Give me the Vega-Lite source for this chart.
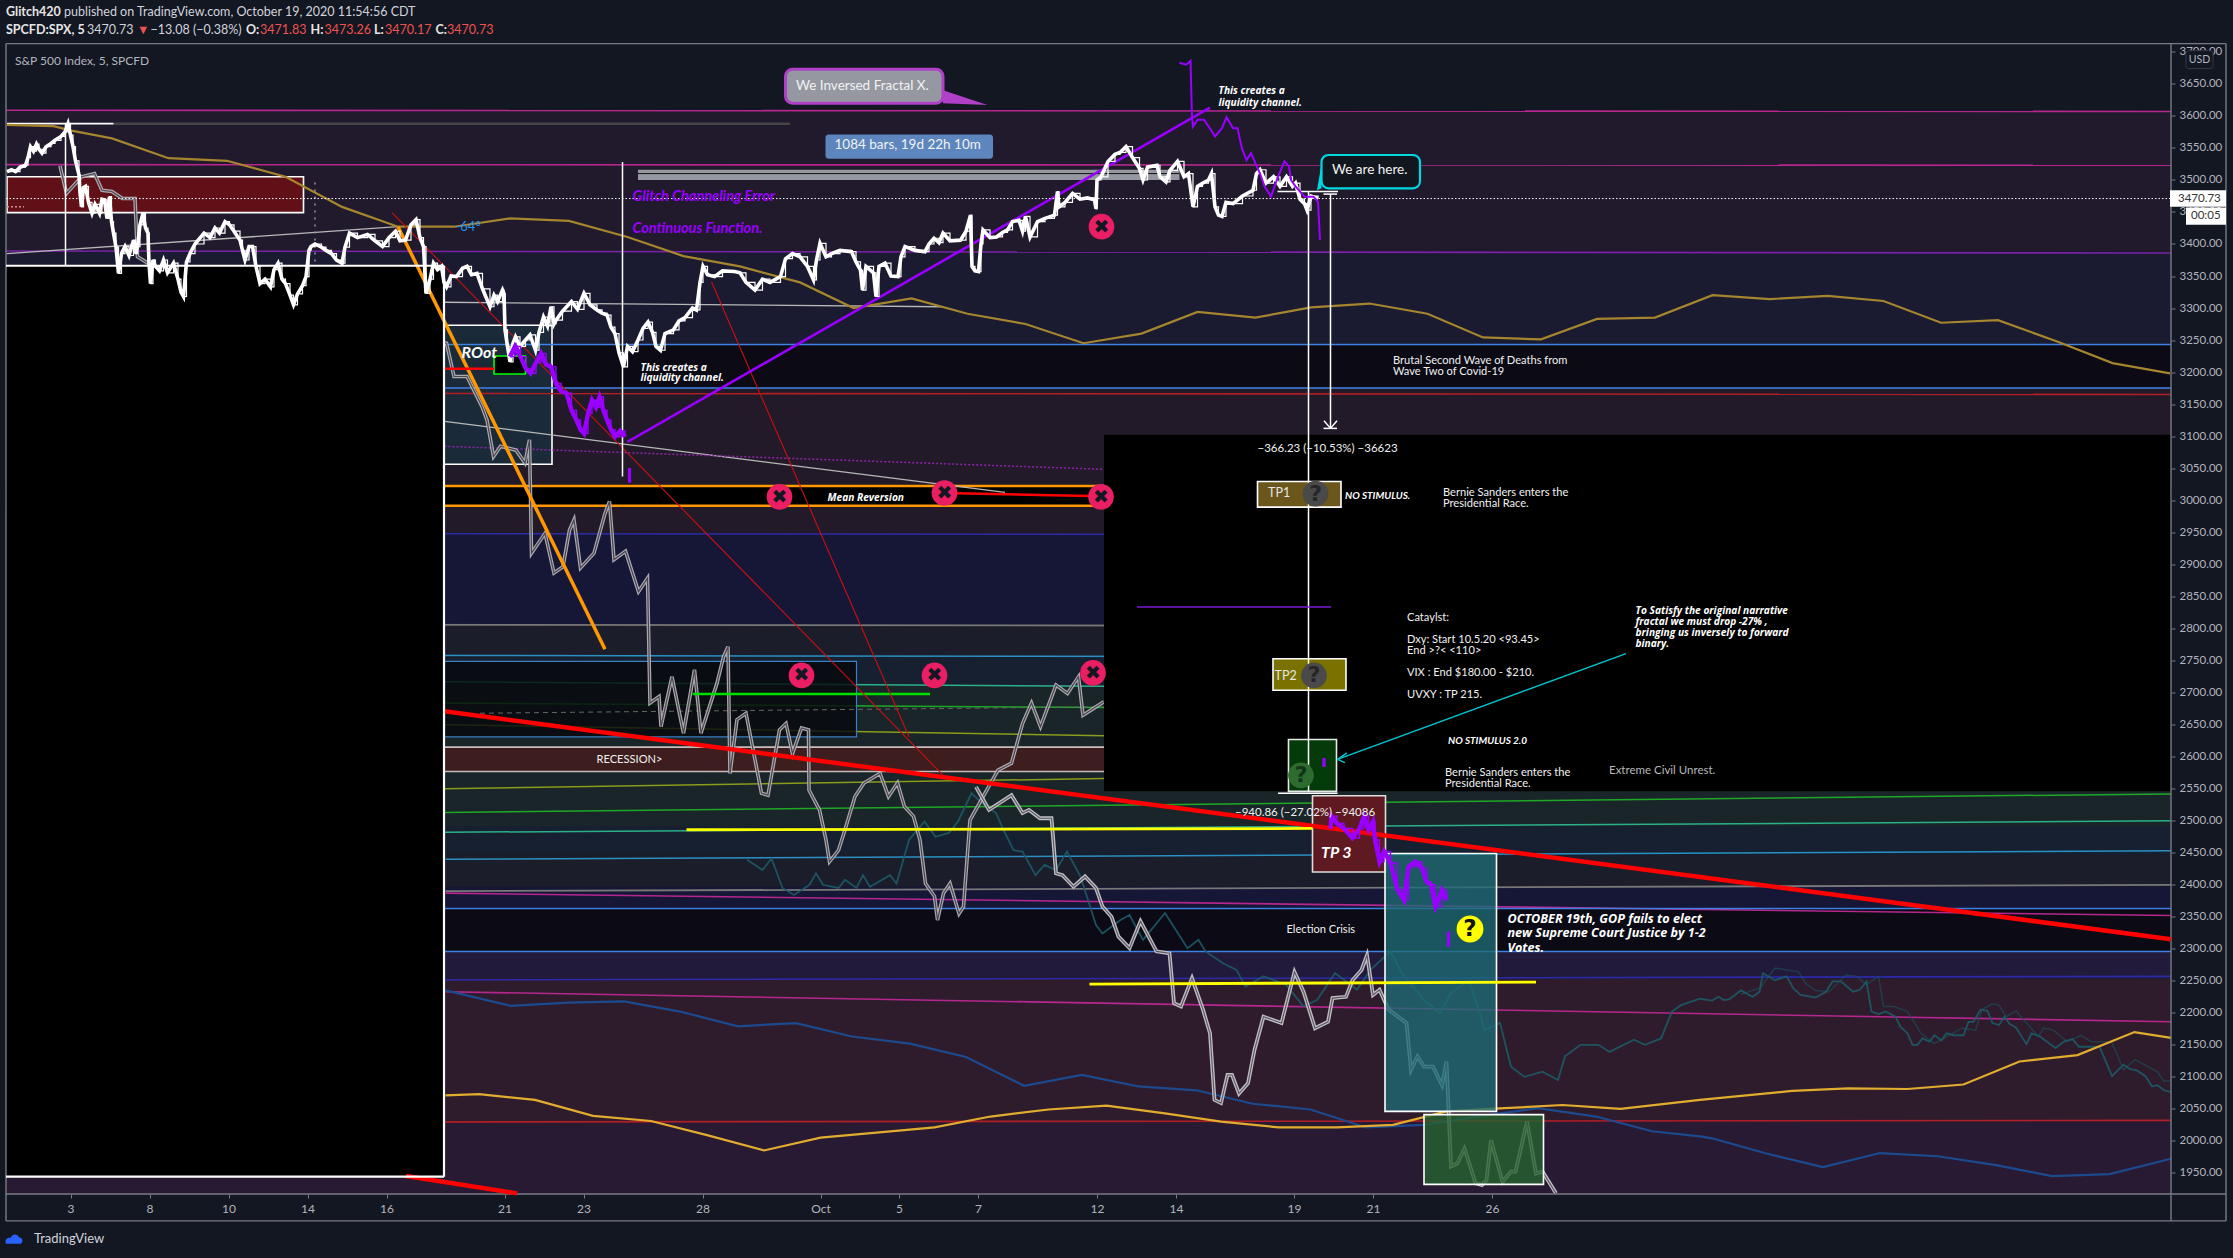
{"$schema":"https://vega.github.io/schema/vega-lite/v6.json","autosize":"none","width":2165,"height":1150.5,"padding":{"left":6,"top":43.5,"right":62,"bottom":64},"background":"#131722","view":{"stroke":null},"config":{"text":{"font":"Lato"}},
"datasets":{
"bands":[{"b":-128,"b2":4202,"p":3608,"p2":3388,"zone":"plum"},{"b":-128,"b2":4202,"p":3388,"p2":3243,"zone":"indigo"},{"b":-128,"b2":4202,"p":3175,"p2":2947,"zone":"wine"},{"b":-128,"b2":4202,"p":2947,"p2":2804,"zone":"navy"},{"b":-128,"b2":4202,"p":2804,"p2":2756,"zone":"slate"},{"b":-128,"b2":4202,"p":2756,"p2":2711,"zone":"deep"},{"b":-128,"b2":4202,"p":2711,"p2":2614,"zone":"moss"},{"b":-128,"b2":4202,"p":2614,"p2":2576,"zone":"recession"},{"b":-128,"b2":4202,"p":2576,"p2":2491,"zone":"moss"},{"b":-128,"b2":4202,"p":2491,"p2":2446,"zone":"deep"},{"b":-128,"b2":4202,"p":2446,"p2":2396,"zone":"slate"},{"b":-128,"b2":4202,"p":2396,"p2":2363,"zone":"navy"},{"b":-128,"b2":4202,"p":2295,"p2":2252,"zone":"violet"},{"b":-128,"b2":4202,"p":2252,"p2":2030,"zone":"maroon"},{"b":-128,"b2":4202,"p":2030,"p2":1916,"zone":"grape"}],
"gridY":[{"p":1950},{"p":2000},{"p":2050},{"p":2100},{"p":2150},{"p":2200},{"p":2250},{"p":2300},{"p":2350},{"p":2400},{"p":2450},{"p":2500},{"p":2550},{"p":2600},{"p":2650},{"p":2700},{"p":2750},{"p":2800},{"p":2850},{"p":2900},{"p":2950},{"p":3000},{"p":3050},{"p":3100},{"p":3150},{"p":3200},{"p":3250},{"p":3300},{"p":3350},{"p":3400},{"p":3450},{"p":3500},{"p":3550},{"p":3600},{"p":3650},{"p":3700}],
"gridX":[{"b":1},{"b":159},{"b":317},{"b":475},{"b":633},{"b":869},{"b":1027},{"b":1265},{"b":1501},{"b":1658},{"b":1816},{"b":2054},{"b":2212},{"b":2448},{"b":2606},{"b":2844}],
"dark":[{"b":-128,"b2":4202,"p":3243,"p2":3175},{"b":-128,"b2":4202,"p":2363,"p2":2295}],
"boxes1":[{"b":-128,"b2":4202,"p":3022,"p2":2991,"kind":"mean"},{"b":748,"b2":964,"p":3273,"p2":3056,"kind":"root"},{"b":-126,"b2":467,"p":3505,"p2":3449,"kind":"supply"},{"b":848,"b2":911,"p":3225,"p2":3197,"kind":"entry"}],
"channel":[{"b":749,"b2":1573,"p":2748,"p2":2630}],
"levels":[
{"b":-128,"b2":4202,"p":3609,"p2":3607,"kind":"magenta"},{"b":-128,"b2":4202,"p":3524,"p2":3523,"kind":"magenta"},{"b":-128,"b2":4202,"p":3389,"p2":3386,"kind":"violet"},{"b":-128,"b2":4202,"p":3243,"p2":3243,"kind":"blue"},{"b":-128,"b2":4202,"p":3175,"p2":3175,"kind":"blue"},{"b":-128,"b2":4202,"p":3167,"p2":3165,"kind":"darkred"},{"b":87,"b2":1440,"p":3588,"p2":3588,"kind":"greybar"},{"b":-128,"b2":4202,"p":3022,"p2":3022,"kind":"amber"},{"b":-128,"b2":4202,"p":2991,"p2":2991,"kind":"amber"},{"b":-128,"b2":4202,"p":2948,"p2":2945,"kind":"indigo"},{"b":-128,"b2":4202,"p":2806,"p2":2802,"kind":"grey"},{"b":-128,"b2":4202,"p":2758,"p2":2754,"kind":"cyan"},{"b":749,"b2":2068,"p":2716,"p2":2709,"kind":"teal"},{"b":749,"b2":2068,"p":2683,"p2":2676,"kind":"green"},{"b":749,"b2":2068,"p":2649,"p2":2632,"kind":"olive"},{"b":-128,"b2":4202,"p":2614,"p2":2614,"kind":"pale"},{"b":-128,"b2":4202,"p":2576,"p2":2576,"kind":"pale"},{"b":749,"b2":2068,"p":2549,"p2":2565,"kind":"olive"},{"b":749,"b2":4202,"p":2512,"p2":2541,"kind":"green"},{"b":749,"b2":4202,"p":2481,"p2":2499,"kind":"teal"},{"b":751,"b2":4202,"p":2439,"p2":2452,"kind":"cyan"},{"b":751,"b2":4202,"p":2389,"p2":2399,"kind":"grey"},{"b":751,"b2":4202,"p":2386,"p2":2351,"kind":"magenta"},{"b":-128,"b2":4202,"p":2362,"p2":2362,"kind":"blue"},{"b":-128,"b2":4202,"p":2295,"p2":2295,"kind":"blue"},{"b":-128,"b2":4202,"p":2249,"p2":2256,"kind":"indigo"},{"b":751,"b2":4202,"p":2232,"p2":2185,"kind":"magenta"},{"b":-128,"b2":4202,"p":2028,"p2":2031,"kind":"darkred"},{"b":-126,"b2":87,"p":3588,"p2":3588,"kind":"white"},{"b":748,"b2":1746,"p":3309,"p2":3302,"kind":"silver"},{"b":-126,"b2":656,"p":3385,"p2":3427,"kind":"silver"},{"b":749,"b2":1870,"p":3123,"p2":3012,"kind":"silver"}],
"dotted":[{"b":749,"b2":2068,"p":3084,"p2":3048}],
"dashed":[{"b":820,"b2":2068,"p":2667,"p2":2677}],
"ghost":[{"b":-20,"p":3522},{"b":-7,"p":3479},{"b":23,"p":3505},{"b":49,"p":3510},{"b":64,"p":3484},{"b":84,"p":3482},{"b":105,"p":3471},{"b":130,"p":3471},{"b":135,"p":3380},{"b":156,"p":3370},{"b":165,"p":3360},{"b":753,"p":3245},{"b":768,"p":3193},{"b":794,"p":3193},{"b":824,"p":3146},{"b":834,"p":3125},{"b":847,"p":3068},{"b":861,"p":3084},{"b":892,"p":3078},{"b":910,"p":3058},{"b":919,"p":3094},{"b":923,"p":2917},{"b":950,"p":2948},{"b":968,"p":2886},{"b":986,"p":2896},{"b":999,"p":2953},{"b":1008,"p":2969},{"b":1021,"p":2894},{"b":1048,"p":2917},{"b":1070,"p":2979},{"b":1079,"p":2998},{"b":1088,"p":2907},{"b":1111,"p":2920},{"b":1137,"p":2857},{"b":1155,"p":2878},{"b":1160,"p":2683},{"b":1178,"p":2693},{"b":1182,"p":2646},{"b":1204,"p":2724},{"b":1227,"p":2636},{"b":1249,"p":2735},{"b":1262,"p":2636},{"b":1294,"p":2714},{"b":1307,"p":2755},{"b":1316,"p":2771},{"b":1320,"p":2573},{"b":1334,"p":2657},{"b":1352,"p":2667},{"b":1383,"p":2542},{"b":1396,"p":2539},{"b":1419,"p":2641},{"b":1432,"p":2651},{"b":1445,"p":2604},{"b":1463,"p":2644},{"b":1477,"p":2641},{"b":1478,"p":2547},{"b":1499,"p":2516},{"b":1512,"p":2469},{"b":1519,"p":2435},{"b":1537,"p":2453},{"b":1550,"p":2485},{"b":1570,"p":2537},{"b":1588,"p":2558},{"b":1620,"p":2573},{"b":1637,"p":2537},{"b":1655,"p":2558},{"b":1669,"p":2521},{"b":1687,"p":2506},{"b":1700,"p":2469},{"b":1711,"p":2401},{"b":1729,"p":2381},{"b":1735,"p":2344},{"b":1747,"p":2386},{"b":1760,"p":2401},{"b":1778,"p":2354},{"b":1787,"p":2365},{"b":1796,"p":2459},{"b":1800,"p":2500},{"b":1856,"p":2578},{"b":1883,"p":2589},{"b":1905,"p":2651},{"b":1923,"p":2683},{"b":1941,"p":2646},{"b":1972,"p":2711},{"b":1995,"p":2698},{"b":2017,"p":2724},{"b":2026,"p":2664},{"b":2048,"p":2675},{"b":2068,"p":2685}],
"ghost2":[{"b":1812,"p":2552},{"b":1838,"p":2516},{"b":1883,"p":2539},{"b":1905,"p":2511},{"b":1918,"p":2516},{"b":1940,"p":2503},{"b":1963,"p":2503},{"b":1972,"p":2417},{"b":1985,"p":2414},{"b":2007,"p":2396},{"b":2030,"p":2412},{"b":2052,"p":2394},{"b":2065,"p":2365},{"b":2083,"p":2349},{"b":2097,"p":2318},{"b":2119,"p":2300},{"b":2141,"p":2342},{"b":2173,"p":2295},{"b":2199,"p":2292},{"b":2208,"p":2214},{"b":2222,"p":2209},{"b":2244,"p":2253},{"b":2266,"p":2204},{"b":2280,"p":2167},{"b":2289,"p":2063},{"b":2302,"p":2058},{"b":2315,"p":2102},{"b":2324,"p":2102},{"b":2338,"p":2073},{"b":2356,"p":2089},{"b":2369,"p":2141},{"b":2387,"p":2193},{"b":2423,"p":2183},{"b":2449,"p":2263},{"b":2467,"p":2232},{"b":2490,"p":2175},{"b":2516,"p":2185},{"b":2525,"p":2222},{"b":2552,"p":2224},{"b":2565,"p":2250},{"b":2583,"p":2266},{"b":2594,"p":2289},{"b":2606,"p":2227},{"b":2619,"p":2235},{"b":2637,"p":2204},{"b":2673,"p":2183},{"b":2682,"p":2110},{"b":2695,"p":2131},{"b":2708,"p":2115},{"b":2726,"p":2115},{"b":2744,"p":2086},{"b":2753,"p":2123},{"b":2762,"p":1959},{"b":2775,"p":1964},{"b":2789,"p":1987},{"b":2811,"p":1933},{"b":2824,"p":1930},{"b":2833,"p":1938},{"b":2842,"p":2000},{"b":2865,"p":1935},{"b":2882,"p":1951},{"b":2891,"p":1951},{"b":2914,"p":2029},{"b":2932,"p":1948},{"b":2945,"p":1951},{"b":2972,"p":1917}],
"tealA":[{"b":1354,"p":2438},{"b":1385,"p":2422},{"b":1403,"p":2440},{"b":1425,"p":2394},{"b":1448,"p":2383},{"b":1479,"p":2399},{"b":1492,"p":2417},{"b":1506,"p":2399},{"b":1537,"p":2394},{"b":1550,"p":2407},{"b":1573,"p":2394},{"b":1586,"p":2414},{"b":1600,"p":2396},{"b":1640,"p":2414},{"b":1653,"p":2401},{"b":1678,"p":2469},{"b":1709,"p":2498},{"b":1731,"p":2474},{"b":1758,"p":2480},{"b":1776,"p":2498},{"b":1803,"p":2542},{"b":1825,"p":2526},{"b":1852,"p":2511},{"b":1867,"p":2485},{"b":1887,"p":2453},{"b":1905,"p":2451},{"b":1931,"p":2414},{"b":1949,"p":2430},{"b":1972,"p":2422},{"b":1994,"p":2451},{"b":2021,"p":2412},{"b":2052,"p":2336},{"b":2065,"p":2323},{"b":2101,"p":2344},{"b":2119,"p":2352},{"b":2146,"p":2313},{"b":2190,"p":2355},{"b":2235,"p":2300},{"b":2257,"p":2313},{"b":2271,"p":2295},{"b":2307,"p":2276},{"b":2333,"p":2266},{"b":2351,"p":2240},{"b":2387,"p":2256},{"b":2432,"p":2243},{"b":2467,"p":2209},{"b":2494,"p":2219},{"b":2530,"p":2261},{"b":2574,"p":2235},{"b":2601,"p":2266},{"b":2641,"p":2295},{"b":2664,"p":2261},{"b":2708,"p":2219},{"b":2740,"p":2198},{"b":2762,"p":2230},{"b":2798,"p":2250},{"b":2820,"p":2198},{"b":2829,"p":2172},{"b":2860,"p":2183},{"b":2882,"p":2115},{"b":2909,"p":2099},{"b":2945,"p":2107},{"b":2976,"p":2094},{"b":2990,"p":2131},{"b":3021,"p":2149},{"b":3057,"p":2149},{"b":3079,"p":2138},{"b":3128,"p":2157},{"b":3150,"p":2149},{"b":3182,"p":2159},{"b":3204,"p":2201},{"b":3222,"p":2211},{"b":3260,"p":2221},{"b":3284,"p":2218},{"b":3297,"p":2224},{"b":3308,"p":2219},{"b":3318,"p":2220},{"b":3342,"p":2234},{"b":3365,"p":2224},{"b":3379,"p":2232},{"b":3386,"p":2261},{"b":3410,"p":2250},{"b":3433,"p":2256},{"b":3447,"p":2237},{"b":3461,"p":2227},{"b":3491,"p":2223},{"b":3512,"p":2232},{"b":3525,"p":2248},{"b":3542,"p":2248},{"b":3566,"p":2232},{"b":3580,"p":2235},{"b":3593,"p":2248},{"b":3603,"p":2201},{"b":3617,"p":2197},{"b":3631,"p":2201},{"b":3651,"p":2193},{"b":3661,"p":2177},{"b":3675,"p":2167},{"b":3685,"p":2149},{"b":3695,"p":2149},{"b":3705,"p":2159},{"b":3719,"p":2154},{"b":3729,"p":2164},{"b":3743,"p":2156},{"b":3753,"p":2167},{"b":3767,"p":2164},{"b":3787,"p":2164},{"b":3797,"p":2185},{"b":3807,"p":2185},{"b":3821,"p":2204},{"b":3835,"p":2202},{"b":3845,"p":2183},{"b":3858,"p":2180},{"b":3869,"p":2193},{"b":3879,"p":2182},{"b":3892,"p":2176},{"b":3913,"p":2150},{"b":3923,"p":2167},{"b":3940,"p":2162},{"b":3971,"p":2144},{"b":3988,"p":2154},{"b":4005,"p":2158},{"b":4018,"p":2146},{"b":4059,"p":2146},{"b":4084,"p":2100},{"b":4107,"p":2118},{"b":4120,"p":2111},{"b":4134,"p":2109},{"b":4151,"p":2100},{"b":4164,"p":2084},{"b":4175,"p":2086},{"b":4188,"p":2078},{"b":4202,"p":2075}],
"tealB":[{"b":3342,"p":2228},{"b":3380,"p":2238},{"b":3410,"p":2269},{"b":3457,"p":2263},{"b":3471,"p":2245},{"b":3491,"p":2234},{"b":3518,"p":2232},{"b":3552,"p":2258},{"b":3573,"p":2256},{"b":3593,"p":2243},{"b":3617,"p":2256},{"b":3627,"p":2209},{"b":3648,"p":2209},{"b":3675,"p":2201},{"b":3702,"p":2167},{"b":3729,"p":2151},{"b":3784,"p":2175},{"b":3811,"p":2172},{"b":3824,"p":2204},{"b":3845,"p":2213},{"b":3858,"p":2211},{"b":3872,"p":2193},{"b":3892,"p":2202},{"b":3913,"p":2183},{"b":3937,"p":2162},{"b":3947,"p":2175},{"b":3967,"p":2172},{"b":3994,"p":2154},{"b":4022,"p":2164},{"b":4042,"p":2154},{"b":4083,"p":2154},{"b":4107,"p":2110},{"b":4130,"p":2126},{"b":4144,"p":2120},{"b":4175,"p":2107},{"b":4188,"p":2092},{"b":4202,"p":2093}],
"navyLine":[{"b":751,"p":2234},{"b":881,"p":2210},{"b":997,"p":2215},{"b":1108,"p":2217},{"b":1220,"p":2201},{"b":1336,"p":2178},{"b":1452,"p":2183},{"b":1564,"p":2162},{"b":1680,"p":2151},{"b":1792,"p":2130},{"b":1908,"p":2085},{"b":2024,"p":2102},{"b":2137,"p":2084},{"b":2253,"p":2078},{"b":2365,"p":2057},{"b":2481,"p":2048},{"b":2592,"p":2020},{"b":2708,"p":2024},{"b":2824,"p":2038},{"b":2936,"p":2050},{"b":3052,"p":2037},{"b":3164,"p":2014},{"b":3260,"p":2006},{"b":3284,"p":2003},{"b":3389,"p":1980},{"b":3506,"p":1958},{"b":3620,"p":1980},{"b":3736,"p":1975},{"b":3852,"p":1961},{"b":3964,"p":1944},{"b":4079,"p":1947},{"b":4202,"p":1971}],
"goldLine":[{"b":751,"p":2070},{"b":818,"p":2072},{"b":930,"p":2063},{"b":1046,"p":2038},{"b":1162,"p":2030},{"b":1274,"p":2008},{"b":1388,"p":1984},{"b":1501,"p":2004},{"b":1613,"p":2012},{"b":1729,"p":2020},{"b":1841,"p":2037},{"b":1957,"p":2048},{"b":2073,"p":2054},{"b":2190,"p":2042},{"b":2302,"p":2029},{"b":2418,"p":2020},{"b":2534,"p":2020},{"b":2646,"p":2024},{"b":2753,"p":2045},{"b":2869,"p":2050},{"b":2985,"p":2055},{"b":3101,"p":2049},{"b":3260,"p":2063},{"b":3444,"p":2077},{"b":3556,"p":2081},{"b":3675,"p":2080},{"b":3787,"p":2087},{"b":3899,"p":2123},{"b":4015,"p":2133},{"b":4129,"p":2169},{"b":4202,"p":2160}],
"tanLine":[{"b":-126,"p":3586},{"b":-33,"p":3584},{"b":3,"p":3577},{"b":84,"p":3565},{"b":197,"p":3534},{"b":314,"p":3530},{"b":431,"p":3505},{"b":544,"p":3458},{"b":656,"p":3427},{"b":768,"p":3427},{"b":880,"p":3440},{"b":998,"p":3436},{"b":1115,"p":3411},{"b":1227,"p":3381},{"b":1340,"p":3365},{"b":1460,"p":3340},{"b":1567,"p":3300},{"b":1683,"p":3315},{"b":1795,"p":3291},{"b":1911,"p":3275},{"b":2027,"p":3245},{"b":2143,"p":3260},{"b":2255,"p":3294},{"b":2371,"p":3285},{"b":2482,"p":3301},{"b":2599,"p":3307},{"b":2715,"p":3291},{"b":2826,"p":3254},{"b":2942,"p":3251},{"b":3054,"p":3283},{"b":3170,"p":3285},{"b":3285,"p":3320},{"b":3400,"p":3314},{"b":3515,"p":3319},{"b":3627,"p":3311},{"b":3742,"p":3277},{"b":3856,"p":3281},{"b":3973,"p":3248},{"b":4085,"p":3214},{"b":4200,"p":3198}],
"black":[{"b":-128,"b2":748,"p":3366,"p2":1943},{"b":2068,"b2":4202,"p":3102,"p2":2545}],
"seg":[{"b":672,"b2":894,"p":1944,"p2":1917,"kind":"fatred"},{"b":749,"b2":4202,"p":2670,"p2":2314,"kind":"fatred"},{"b":656,"b2":1070,"p":3427,"p2":2767,"kind":"orange"},{"b":1233,"b2":2485,"p":2485,"p2":2487,"kind":"yellow"},{"b":2039,"b2":2932,"p":2244,"p2":2247,"kind":"yellow"},{"b":1245,"b2":1720,"p":2697,"p2":2697,"kind":"lime"},{"b":644,"b2":1749,"p":3449,"p2":2568,"kind":"thinred"},{"b":1283,"b2":1678,"p":3341,"p2":2630,"kind":"thinred"},{"b":748,"b2":848,"p":3205,"p2":3205,"kind":"red"},{"b":1749,"b2":2062,"p":3011,"p2":3006,"kind":"red"},{"b":1115,"b2":2280,"p":3091,"p2":3613,"kind":"diag"},{"b":-128,"b2":748,"p":3366,"p2":3366,"kind":"frameW"},{"b":748,"b2":748,"p":3366,"p2":1943,"kind":"frameW"},{"b":-128,"b2":748,"p":1943,"p2":1943,"kind":"frameW"},{"b":-9,"b2":-9,"p":3588,"p2":3366,"kind":"white"},{"b":869,"b2":869,"p":3323,"p2":3273,"kind":"white"},{"b":1105,"b2":1105,"p":3528,"p2":3037,"kind":"white"},{"b":2415,"b2":2536,"p":3482,"p2":3482,"kind":"white"},{"b":2477,"b2":2477,"p":3482,"p2":2545,"kind":"white"},{"b":2521,"b2":2521,"p":3478,"p2":3112,"kind":"white"},{"b":2507,"b2":2534,"p":3478,"p2":3478,"kind":"white"},{"b":2507,"b2":2534,"p":3112,"p2":3112,"kind":"white"},{"b":2508,"b2":2521,"p":3124,"p2":3112,"kind":"white"},{"b":2534,"b2":2521,"p":3124,"p2":3112,"kind":"white"},{"b":2416,"b2":2535,"p":2542,"p2":2542,"kind":"white"},{"b":3112,"b2":2535,"p":2760,"p2":2595,"kind":"arrow"},{"b":2554,"b2":2535,"p":2605,"p2":2595,"kind":"arrow"},{"b":2550,"b2":2535,"p":2590,"p2":2595,"kind":"arrow"},{"b":1119,"b2":1119,"p":3050,"p2":3027,"kind":"purple"},{"b":2757,"b2":2757,"p":2326,"p2":2302,"kind":"purple"},{"b":2508,"b2":2508,"p":2597,"p2":2583,"kind":"purple"},{"b":2134,"b2":2522,"p":2833,"p2":2833,"kind":"thinpurple"}],
"dots":[{"b":490,"b2":490,"p":3496,"p2":3366}],
"pinkdots":[{"b":-126,"b2":-92,"p":3458,"p2":3458}],
"greybar":[{"b":1136,"b2":2219,"p":3516,"p2":3500}],
"greymid":[{"b":1136,"b2":2219,"p":3510,"p2":3510}],
"white":[{"b":-126,"p":3513},{"b":-117,"p":3516},{"b":-109,"p":3513},{"b":-100,"p":3520},{"b":-89,"p":3523},{"b":-84,"p":3535},{"b":-79,"p":3552},{"b":-73,"p":3545},{"b":-67,"p":3556},{"b":-62,"p":3548},{"b":-56,"p":3542},{"b":-48,"p":3552},{"b":-38,"p":3557},{"b":-30,"p":3562},{"b":-18,"p":3568},{"b":-10,"p":3575},{"b":-4,"p":3588},{"b":1,"p":3570},{"b":6,"p":3552},{"b":11,"p":3530},{"b":18,"p":3508},{"b":20,"p":3480},{"b":23,"p":3458},{"b":27,"p":3488},{"b":31,"p":3490},{"b":37,"p":3465},{"b":44,"p":3448},{"b":50,"p":3462},{"b":59,"p":3448},{"b":64,"p":3470},{"b":69,"p":3469},{"b":74,"p":3440},{"b":79,"p":3474},{"b":83,"p":3435},{"b":87,"p":3417},{"b":92,"p":3395},{"b":97,"p":3354},{"b":103,"p":3385},{"b":110,"p":3396},{"b":118,"p":3382},{"b":127,"p":3406},{"b":131,"p":3385},{"b":135,"p":3396},{"b":140,"p":3430},{"b":146,"p":3448},{"b":151,"p":3425},{"b":156,"p":3417},{"b":158,"p":3370},{"b":161,"p":3338},{"b":166,"p":3375},{"b":171,"p":3365},{"b":179,"p":3358},{"b":187,"p":3375},{"b":195,"p":3355},{"b":207,"p":3370},{"b":216,"p":3345},{"b":222,"p":3325},{"b":227,"p":3318},{"b":233,"p":3372},{"b":240,"p":3385},{"b":250,"p":3400},{"b":268,"p":3417},{"b":280,"p":3410},{"b":290,"p":3425},{"b":299,"p":3417},{"b":310,"p":3435},{"b":319,"p":3430},{"b":328,"p":3420},{"b":340,"p":3406},{"b":345,"p":3390},{"b":350,"p":3375},{"b":358,"p":3396},{"b":365,"p":3396},{"b":372,"p":3365},{"b":380,"p":3338},{"b":390,"p":3345},{"b":401,"p":3333},{"b":408,"p":3360},{"b":416,"p":3370},{"b":424,"p":3345},{"b":431,"p":3338},{"b":440,"p":3320},{"b":447,"p":3305},{"b":455,"p":3322},{"b":465,"p":3335},{"b":472,"p":3349},{"b":478,"p":3390},{"b":482,"p":3396},{"b":490,"p":3400},{"b":503,"p":3395},{"b":512,"p":3390},{"b":523,"p":3385},{"b":533,"p":3375},{"b":544,"p":3370},{"b":550,"p":3395},{"b":559,"p":3417},{"b":575,"p":3410},{"b":595,"p":3415},{"b":610,"p":3405},{"b":625,"p":3396},{"b":638,"p":3410},{"b":651,"p":3420},{"b":660,"p":3405},{"b":671,"p":3406},{"b":682,"p":3430},{"b":692,"p":3438},{"b":700,"p":3410},{"b":707,"p":3396},{"b":712,"p":3323},{"b":720,"p":3345},{"b":727,"p":3370},{"b":735,"p":3360},{"b":743,"p":3365},{"b":748,"p":3340},{"b":753,"p":3333},{"b":762,"p":3350},{"b":773,"p":3349},{"b":785,"p":3362},{"b":794,"p":3365},{"b":803,"p":3352},{"b":814,"p":3354},{"b":825,"p":3330},{"b":840,"p":3302},{"b":848,"p":3320},{"b":855,"p":3310},{"b":865,"p":3328},{"b":868,"p":3322},{"b":870,"p":3266},{"b":875,"p":3240},{"b":880,"p":3216},{"b":886,"p":3245},{"b":891,"p":3255},{"b":900,"p":3240},{"b":911,"p":3250},{"b":920,"p":3258},{"b":931,"p":3234},{"b":938,"p":3262},{"b":947,"p":3286},{"b":955,"p":3272},{"b":962,"p":3302},{"b":968,"p":3275},{"b":972,"p":3281},{"b":985,"p":3295},{"b":1003,"p":3310},{"b":1015,"p":3298},{"b":1028,"p":3323},{"b":1040,"p":3305},{"b":1054,"p":3297},{"b":1064,"p":3292},{"b":1074,"p":3289},{"b":1082,"p":3270},{"b":1090,"p":3260},{"b":1098,"p":3230},{"b":1107,"p":3208},{"b":1115,"p":3240},{"b":1125,"p":3232},{"b":1136,"p":3250},{"b":1146,"p":3268},{"b":1156,"p":3278},{"b":1165,"p":3262},{"b":1172,"p":3240},{"b":1181,"p":3234},{"b":1190,"p":3260},{"b":1207,"p":3266},{"b":1218,"p":3280},{"b":1230,"p":3285},{"b":1245,"p":3300},{"b":1253,"p":3297},{"b":1260,"p":3340},{"b":1266,"p":3365},{"b":1275,"p":3352},{"b":1289,"p":3349},{"b":1305,"p":3358},{"b":1329,"p":3357},{"b":1340,"p":3355},{"b":1352,"p":3340},{"b":1370,"p":3328},{"b":1385,"p":3345},{"b":1400,"p":3340},{"b":1421,"p":3349},{"b":1431,"p":3377},{"b":1445,"p":3385},{"b":1460,"p":3380},{"b":1475,"p":3365},{"b":1487,"p":3344},{"b":1493,"p":3375},{"b":1500,"p":3401},{"b":1512,"p":3380},{"b":1523,"p":3385},{"b":1540,"p":3390},{"b":1563,"p":3388},{"b":1572,"p":3372},{"b":1581,"p":3359},{"b":1585,"p":3328},{"b":1592,"p":3365},{"b":1607,"p":3355},{"b":1612,"p":3318},{"b":1618,"p":3365},{"b":1630,"p":3370},{"b":1642,"p":3350},{"b":1656,"p":3349},{"b":1662,"p":3380},{"b":1670,"p":3396},{"b":1690,"p":3390},{"b":1710,"p":3388},{"b":1718,"p":3400},{"b":1728,"p":3409},{"b":1738,"p":3402},{"b":1746,"p":3417},{"b":1760,"p":3405},{"b":1781,"p":3406},{"b":1792,"p":3420},{"b":1801,"p":3445},{"b":1804,"p":3365},{"b":1810,"p":3358},{"b":1817,"p":3357},{"b":1822,"p":3400},{"b":1826,"p":3422},{"b":1840,"p":3410},{"b":1853,"p":3411},{"b":1865,"p":3418},{"b":1875,"p":3422},{"b":1885,"p":3435},{"b":1898,"p":3437},{"b":1905,"p":3420},{"b":1911,"p":3443},{"b":1920,"p":3411},{"b":1935,"p":3435},{"b":1950,"p":3440},{"b":1969,"p":3445},{"b":1975,"p":3482},{"b":1978,"p":3458},{"b":1990,"p":3465},{"b":2005,"p":3479},{"b":2020,"p":3470},{"b":2035,"p":3472},{"b":2049,"p":3469},{"b":2052,"p":3455},{"b":2054,"p":3500},{"b":2062,"p":3505},{"b":2076,"p":3529},{"b":2090,"p":3540},{"b":2100,"p":3543},{"b":2112,"p":3552},{"b":2125,"p":3535},{"b":2139,"p":3518},{"b":2146,"p":3500},{"b":2155,"p":3520},{"b":2174,"p":3523},{"b":2180,"p":3505},{"b":2192,"p":3497},{"b":2200,"p":3515},{"b":2215,"p":3529},{"b":2228,"p":3505},{"b":2237,"p":3510},{"b":2246,"p":3458},{"b":2255,"p":3490},{"b":2265,"p":3495},{"b":2277,"p":3500},{"b":2283,"p":3510},{"b":2290,"p":3458},{"b":2297,"p":3445},{"b":2304,"p":3443},{"b":2312,"p":3465},{"b":2326,"p":3463},{"b":2345,"p":3475},{"b":2366,"p":3484},{"b":2373,"p":3510},{"b":2380,"p":3516},{"b":2392,"p":3495},{"b":2407,"p":3505},{"b":2420,"p":3490},{"b":2433,"p":3505},{"b":2445,"p":3490},{"b":2451,"p":3495},{"b":2460,"p":3470},{"b":2469,"p":3463},{"b":2474,"p":3453},{"b":2482,"p":3475},{"b":2496,"p":3471}],
"purpleA":[{"b":880,"p":3224},{"b":890,"p":3240},{"b":901,"p":3224},{"b":912,"p":3205},{"b":921,"p":3198},{"b":932,"p":3215},{"b":942,"p":3229},{"b":952,"p":3212},{"b":962,"p":3208},{"b":972,"p":3182},{"b":982,"p":3170},{"b":993,"p":3167},{"b":1003,"p":3140},{"b":1013,"p":3125},{"b":1021,"p":3110},{"b":1028,"p":3104},{"b":1036,"p":3135},{"b":1044,"p":3156},{"b":1052,"p":3145},{"b":1059,"p":3161},{"b":1067,"p":3140},{"b":1074,"p":3125},{"b":1082,"p":3110},{"b":1090,"p":3099},{"b":1100,"p":3108},{"b":1110,"p":3099}],
"purpleB":[{"b":2219,"p":3683},{"b":2232,"p":3680},{"b":2241,"p":3686},{"b":2244,"p":3599},{"b":2246,"p":3583},{"b":2255,"p":3594},{"b":2268,"p":3594},{"b":2282,"p":3578},{"b":2290,"p":3568},{"b":2304,"p":3581},{"b":2313,"p":3598},{"b":2326,"p":3581},{"b":2335,"p":3581},{"b":2344,"p":3549},{"b":2353,"p":3531},{"b":2362,"p":3542},{"b":2371,"p":3526},{"b":2380,"p":3510},{"b":2389,"p":3490},{"b":2402,"p":3474},{"b":2416,"p":3505},{"b":2429,"p":3529},{"b":2438,"p":3521},{"b":2442,"p":3500},{"b":2451,"p":3490},{"b":2469,"p":3474},{"b":2487,"p":3474},{"b":2496,"p":3466},{"b":2500,"p":3406}],
"purpleC":[{"b":2521,"p":2487},{"b":2523,"p":2506},{"b":2534,"p":2495},{"b":2548,"p":2487},{"b":2565,"p":2472},{"b":2579,"p":2487},{"b":2588,"p":2506},{"b":2597,"p":2485},{"b":2606,"p":2498},{"b":2610,"p":2469},{"b":2619,"p":2435},{"b":2628,"p":2451},{"b":2641,"p":2433},{"b":2655,"p":2391},{"b":2668,"p":2375},{"b":2677,"p":2427},{"b":2690,"p":2435},{"b":2704,"p":2425},{"b":2713,"p":2404},{"b":2722,"p":2399},{"b":2731,"p":2365},{"b":2744,"p":2391},{"b":2753,"p":2375}],
"boxes2":[{"b":2375,"b2":2542,"p":3029,"p2":2989,"kind":"tp1"},{"b":2406,"b2":2552,"p":2752,"p2":2703,"kind":"tp2"},{"b":2437,"b2":2533,"p":2626,"p2":2545,"kind":"tpg"},{"b":2485,"b2":2631,"p":2538,"p2":2419,"kind":"tp3"},{"b":2630,"b2":2853,"p":2448,"p2":2045,"kind":"zone"},{"b":2708,"b2":2947,"p":2040,"p2":1931,"kind":"demand"}],
"tooltip":[{"b":1511,"b2":1846,"p":3571,"p2":3533}],
"calloutA":[{"b":1431,"b2":1746,"p":3673,"p2":3620}],
"tailA":[{"b":1746,"p":3640,"p2":3620},{"b":1835,"p":3617,"p2":3617}],
"calloutB":[{"b":2503,"b2":2700,"p":3539,"p2":3487}],
"tailB":[{"b":2494,"p":3484,"p2":3484},{"b":2503,"p":3525,"p2":3487}],
"xmarks":[{"b":2063,"p":3427,"t":"✖"},{"b":1419,"p":3005,"t":"✖"},{"b":1749,"p":3011,"t":"✖"},{"b":2062,"p":3005,"t":"✖"},{"b":1463,"p":2726,"t":"✖"},{"b":1729,"p":2726,"t":"✖"},{"b":2046,"p":2730,"t":"✖"}],
"qmarks":[{"b":2491,"p":3010,"t":"?"},{"b":2488,"p":2726,"t":"?"}],
"qgreen":[{"b":2462,"p":2570,"t":"?"}],
"qyellow":[{"b":2800,"p":2330,"t":"?"}],
"note":[{"b":2646,"p":3217,"t":"Brutal Second Wave of Deaths from"},{"b":2646,"p":3200,"t":"Wave Two of Covid-19"},{"b":2746,"p":3011,"t":"Bernie Sanders enters the"},{"b":2746,"p":2994,"t":"Presidential Race."},{"b":2674,"p":2815,"t":"Cataylst:"},{"b":2674,"p":2781,"t":"Dxy: Start 10.5.20 <93.45>"},{"b":2674,"p":2764,"t":"End >?< <110>"},{"b":2674,"p":2730,"t":"VIX : End $180.00 - $210."},{"b":2674,"p":2696,"t":"UVXY : TP 215."},{"b":2750,"p":2573,"t":"Bernie Sanders enters the"},{"b":2750,"p":2556,"t":"Presidential Race."},{"b":2433,"p":2329,"t":"Election Crisis"},{"b":1053,"p":2594,"t":"RECESSION>"}],
"noteM":[{"b":2375,"p":3080,"t":"−366.23 (−10.53%) −36623"},{"b":2330,"p":2511,"t":"−940.86 (−27.02%) −94086"}],
"noteGrey":[{"b":3078,"p":2577,"t":"Extreme Civil Unrest."}],
"tpText":[{"b":2396,"p":3011,"t":"TP1"},{"b":2409,"p":2725,"t":"TP2"}],
"bi":[{"b":1141,"p":3207,"t":"This creates a"},{"b":1141,"p":3190,"t":"liquidity channel."},{"b":2297,"p":3639,"t":"This creates a"},{"b":2297,"p":3621,"t":"liquidity channel."},{"b":1515,"p":3004,"t":"Mean Reversion"},{"b":3131,"p":2827,"t":"To Satisfy the original narrative"},{"b":3131,"p":2809,"t":"fractal we must drop -27% ,"},{"b":3131,"p":2792,"t":"bringing us inversely to forward"},{"b":3131,"p":2775,"t":"binary."}],
"biSmall":[{"b":2550,"p":3007,"t":"NO STIMULUS."},{"b":2756,"p":2624,"t":"NO STIMULUS 2.0"}],
"biBig":[{"b":2875,"p":2345,"t":"OCTOBER 19th, GOP fails to elect"},{"b":2875,"p":2323,"t":"new Supreme Court Justice by 1-2"},{"b":2875,"p":2301,"t":"Votes."}],
"biLarge":[{"b":783,"p":3230,"t":"ROot"},{"b":2502,"p":2448,"t":"TP 3"}],
"violetText":[{"b":1125,"p":3474,"t":"Glitch Channeling Error"},{"b":1125,"p":3423,"t":"Continuous Function."}],
"angle":[{"b":771,"p":3427,"t":"-64°"}],
"calloutText":[{"b":1452,"p":3647,"t":"We Inversed Fractal X."},{"b":1529,"p":3554,"t":"1084 bars, 19d 22h 10m"},{"b":2524,"p":3515,"t":"We are here."}],
"headB":[{"b":-128,"p":3762,"t":"Glitch420"},{"b":-128,"p":3734,"t":"SPCFD:SPX, 5"},{"b":352,"p":3734,"t":"O:"},{"b":481,"p":3734,"t":"H:"},{"b":608,"p":3734,"t":"L:"},{"b":731,"p":3734,"t":"C:"}],
"headN":[{"b":-12,"p":3762,"t":"published on TradingView.com, October 19, 2020 11:54:56 CDT"},{"b":34,"p":3734,"t":"3470.73"},{"b":161,"p":3734,"t":"−13.08 (−0.38%)"}],
"headR":[{"b":134,"p":3734,"t":"▼"},{"b":380,"p":3734,"t":"3471.83"},{"b":509,"p":3734,"t":"3473.26"},{"b":630,"p":3734,"t":"3470.17"},{"b":754,"p":3734,"t":"3470.73"}],
"title":[{"b":-110,"p":3686,"t":"S&P 500 Index, 5, SPCFD"}],
"brand":[{"b":-72,"p":1846,"t":"TradingView"}],
"logo":[{"b":-112,"p":1846}],
"frame":[{"b":-128,"b2":4312,"p":3713,"p2":3713},{"b":-128,"b2":-128,"p":3713,"p2":1874},{"b":-128,"b2":4312,"p":1874,"p2":1874},{"b":4312,"b2":4312,"p":3713,"p2":1874},{"b":4202,"b2":4202,"p":3713,"p2":1874},{"b":-128,"b2":4312,"p":1916,"p2":1916}],
"tags":[{"b":4200,"b2":4312,"p":3484,"p2":3458},{"b":4232,"b2":4312,"p":3457,"p2":3430}],
"tagText":[{"b":4216,"p":3471,"t":"3470.73"},{"b":4242,"p":3443,"t":"00:05"}],
"usd":[{"b":4232,"b2":4286,"p":3702,"p2":3674}],
"usdText":[{"b":4259,"p":3688,"t":"USD"}],
"priceLine":[{"b":-128,"b2":4202,"p":3471,"p2":3471}]
},
"encoding":{
"x":{"field":"b","type":"quantitative","title":null,"scale":{"domain":[-128,4202],"nice":false,"zero":false},"axis":{"values":[1,159,317,475,633,869,1027,1265,1501,1658,1816,2054,2212,2448,2606,2844],"labelExpr":"{'1':'3','159':'8','317':'10','475':'14','633':'16','869':'21','1027':'23','1265':'28','1501':'Oct','1658':'5','1816':'7','2054':'12','2212':'14','2448':'19','2606':'21','2844':'26'}[datum.value]","grid":false,"domain":false,"tickColor":"#787b86","tickSize":4,"labelColor":"#b2b5be","labelFont":"Lato","labelFontSize":12,"labelPadding":5,"labelOverlap":false,"title":null}},
"y":{"field":"p","type":"quantitative","title":null,"scale":{"domain":[1916,3713.2],"nice":false,"zero":false},"axis":{"orient":"right","values":[1950,2000,2050,2100,2150,2200,2250,2300,2350,2400,2450,2500,2550,2600,2650,2700,2750,2800,2850,2900,2950,3000,3050,3100,3150,3200,3250,3300,3350,3400,3450,3500,3550,3600,3650,3700],"format":".2f","grid":false,"domain":false,"tickColor":"#787b86","tickSize":4,"labelColor":"#b2b5be","labelFont":"Lato","labelFontSize":11.5,"labelPadding":4,"labelOverlap":false,"title":null}}
},
"layer":[
{"data":{"name":"bands"},"mark":{"type":"rect"},"encoding":{"x2":{"field":"b2"},"y2":{"field":"p2"},"fill":{"field":"zone","type":"nominal","legend":null,"scale":{"domain":["plum","indigo","wine","navy","slate","deep","moss","recession","violet","maroon","grape"],"range":["#211a2d","#1a1a30","#221a29","#161736","#1b1d2a","#162030","#192528","#3d1d1e","#211a3a","#2e1c2c","#281a33"]}}}},
{"data":{"name":"gridY"},"mark":{"type":"rule","color":"#4a4759","strokeWidth":1},"encoding":{"x":{"datum":-128},"x2":{"datum":4202}}},
{"data":{"name":"gridX"},"mark":{"type":"rule","color":"#4a4759","strokeWidth":1},"encoding":{"y":{"datum":3713.2},"y2":{"datum":1916}}},
{"data":{"name":"dark"},"mark":{"type":"rect","fill":"#0b0a14","fillOpacity":0.93},"encoding":{"x2":{"field":"b2"},"y2":{"field":"p2"}}},
{"data":{"name":"boxes1"},"mark":{"type":"rect","strokeWidth":1.6},"encoding":{"x2":{"field":"b2"},"y2":{"field":"p2"},"fill":{"field":"kind","type":"nominal","legend":null,"scale":{"domain":["mean","root","supply","entry"],"range":["#000000","#1a2a38","#621018","#000000"]}},"stroke":{"field":"kind","type":"nominal","legend":null,"scale":{"domain":["mean","root","supply","entry"],"range":["#000000","#ffffff","#ffffff","#00ff00"]}}}},
{"data":{"name":"levels"},"mark":{"type":"rule"},"encoding":{"x2":{"field":"b2"},"y2":{"field":"p2"},"color":{"field":"kind","type":"nominal","legend":null,"scale":{"domain":["magenta","violet","blue","darkred","greybar","amber","indigo","grey","cyan","teal","green","olive","pale","white","silver"],"range":["#b5278f","#7b22a8","#3f82e6","#b01f26","#454545","#ff9800","#2b2ba8","#787878","#2a90c4","#2bb08a","#1fa825","#8a9c1c","#c9bdbd","#ffffff","#b8b8b8"]}},"strokeWidth":{"field":"kind","type":"nominal","legend":null,"scale":{"type":"ordinal","domain":["magenta","violet","blue","darkred","greybar","amber","indigo","grey","cyan","teal","green","olive","pale","white","silver"],"range":[1.6,1.6,1.5,1.6,2.5,2.5,1.6,1.8,1.5,1.5,1.5,1.5,1.6,1.6,1.3]}}}},
{"data":{"name":"channel"},"mark":{"type":"rect","fill":"#07090d","fillOpacity":0.82,"stroke":"#3b7fc4","strokeWidth":1.2},"encoding":{"x2":{"field":"b2"},"y2":{"field":"p2"}}},
{"data":{"name":"dotted"},"mark":{"type":"rule","color":"#8e24aa","strokeWidth":1.5,"strokeDash":[2,2]},"encoding":{"x2":{"field":"b2"},"y2":{"field":"p2"}}},
{"data":{"name":"dashed"},"mark":{"type":"rule","color":"#666666","strokeWidth":1,"strokeDash":[5,4]},"encoding":{"x2":{"field":"b2"},"y2":{"field":"p2"}}},
{"data":{"name":"tealB"},"mark":{"type":"line","color":"#1e4a55","strokeWidth":1.5,"opacity":0.7}},
{"data":{"name":"tealA"},"mark":{"type":"line","color":"#1d5a66","strokeWidth":1.8,"opacity":0.9}},
{"data":{"name":"navyLine"},"mark":{"type":"line","color":"#1c4a8e","strokeWidth":2.2}},
{"data":{"name":"goldLine"},"mark":{"type":"line","color":"#e2ad2f","strokeWidth":2.2}},
{"data":{"name":"tanLine"},"mark":{"type":"line","color":"#a5852e","strokeWidth":2.2}},
{"data":{"name":"ghost"},"mark":{"type":"line","color":"#b9b9bd","strokeWidth":3.6,"opacity":0.9}},
{"data":{"name":"ghost"},"mark":{"type":"line","color":"#3a3040","strokeWidth":1.2,"opacity":0.85}},
{"data":{"name":"ghost2"},"mark":{"type":"line","color":"#c6c6ca","strokeWidth":3.8,"opacity":0.95}},
{"data":{"name":"ghost2"},"mark":{"type":"line","color":"#4a4250","strokeWidth":1.1,"opacity":0.85}},
{"data":{"name":"black"},"mark":{"type":"rect","fill":"#000000"},"encoding":{"x2":{"field":"b2"},"y2":{"field":"p2"}}},
{"data":{"name":"frame"},"mark":{"type":"rule","color":"#787b86","strokeWidth":1.4},"encoding":{"x2":{"field":"b2"},"y2":{"field":"p2"}}},
{"data":{"name":"greybar"},"mark":{"type":"rect","fill":"#9598a1"},"encoding":{"x2":{"field":"b2"},"y2":{"field":"p2"}}},
{"data":{"name":"greymid"},"mark":{"type":"rule","color":"#111111","strokeWidth":1},"encoding":{"x2":{"field":"b2"},"y2":{"field":"p2"}}},
{"data":{"name":"boxes2"},"mark":{"type":"rect","strokeWidth":1.6},"encoding":{"x2":{"field":"b2"},"y2":{"field":"p2"},"fill":{"field":"kind","type":"nominal","legend":null,"scale":{"domain":["tp1","tp2","tpg","tp3","zone","demand"],"range":["#6b561c","#7a7200","#053a0a","#5e1a20","rgba(29,108,117,0.78)","rgba(38,100,48,0.78)"]}},"stroke":{"field":"kind","type":"nominal","legend":null,"scale":{"domain":["tp1","tp2","tpg","tp3","zone","demand"],"range":["#ffffff","#ffffff","#e8e8e8","#dddddd","#ffffff","#ffffff"]}}}},
{"data":{"name":"seg"},"mark":{"type":"rule"},"encoding":{"x2":{"field":"b2"},"y2":{"field":"p2"},"color":{"field":"kind","type":"nominal","legend":null,"scale":{"domain":["fatred","orange","yellow","lime","thinred","red","diag","white","frameW","arrow","purple","thinpurple"],"range":["#ff0000","#ff9800","#ffff00","#00e000","#cc0f0f","#ff0000","#9900ff","#ffffff","#ffffff","#00c8d0","#9900ff","#7a18d0"]}},"strokeWidth":{"field":"kind","type":"nominal","legend":null,"scale":{"type":"ordinal","domain":["fatred","orange","yellow","lime","thinred","red","diag","white","frameW","arrow","purple","thinpurple"],"range":[4.5,3.5,2.8,2.6,1.1,2.5,2.6,1.5,2.2,1.4,3.2,1.4]}}}},
{"data":{"name":"dots"},"mark":{"type":"rule","color":"#8c8c96","strokeWidth":1.6,"strokeDash":[2,5]},"encoding":{"x2":{"field":"b2"},"y2":{"field":"p2"}}},
{"data":{"name":"pinkdots"},"mark":{"type":"rule","color":"#d08a96","strokeWidth":1.5,"strokeDash":[2,2]},"encoding":{"x2":{"field":"b2"},"y2":{"field":"p2"}}},
{"data":{"name":"priceLine"},"mark":{"type":"rule","color":"#ffffff","strokeWidth":1,"strokeDash":[1.5,2]},"encoding":{"x2":{"field":"b2"},"y2":{"field":"p2"}}},
{"data":{"name":"white"},"mark":{"type":"line","color":"#ffffff","strokeWidth":1.2,"interpolate":"step-after"}},
{"data":{"name":"white"},"mark":{"type":"line","color":"#ffffff","strokeWidth":3.6,"strokeJoin":"miter"}},
{"data":{"name":"purpleA"},"mark":{"type":"line","color":"#9900ff","strokeWidth":1.4,"interpolate":"step-after"}},
{"data":{"name":"purpleA"},"mark":{"type":"line","color":"#9900ff","strokeWidth":4.4}},
{"data":{"name":"purpleB"},"mark":{"type":"line","color":"#9900ff","strokeWidth":2}},
{"data":{"name":"purpleC"},"mark":{"type":"line","color":"#9900ff","strokeWidth":1.4,"interpolate":"step-after"}},
{"data":{"name":"purpleC"},"mark":{"type":"line","color":"#9900ff","strokeWidth":4.4}},
{"data":{"name":"tooltip"},"mark":{"type":"rect","fill":"#5c86bd","cornerRadius":3},"encoding":{"x2":{"field":"b2"},"y2":{"field":"p2"}}},
{"data":{"name":"tailA"},"mark":{"type":"area","fill":"#b040c8"},"encoding":{"y2":{"field":"p2"}}},
{"data":{"name":"calloutA"},"mark":{"type":"rect","fill":"#9598a1","stroke":"#b040c8","strokeWidth":3,"cornerRadius":7},"encoding":{"x2":{"field":"b2"},"y2":{"field":"p2"}}},
{"data":{"name":"tailB"},"mark":{"type":"area","fill":"#00d8e0"},"encoding":{"y2":{"field":"p2"}}},
{"data":{"name":"calloutB"},"mark":{"type":"rect","fill":"#12161f","stroke":"#00d8e0","strokeWidth":2.2,"cornerRadius":7},"encoding":{"x2":{"field":"b2"},"y2":{"field":"p2"}}},
{"data":{"name":"xmarks"},"mark":{"type":"point","shape":"circle","filled":true,"fill":"#e91e63","opacity":1,"size":660}},
{"data":{"name":"xmarks"},"mark":{"type":"text","font":"DejaVu Sans","fontSize":19,"color":"#131722","baseline":"middle","align":"center"},"encoding":{"text":{"field":"t"}}},
{"data":{"name":"qmarks"},"mark":{"type":"point","shape":"circle","filled":true,"fill":"#4a4a4a","opacity":1,"size":660}},
{"data":{"name":"qmarks"},"mark":{"type":"text","font":"DejaVu Sans","fontWeight":"bold","fontSize":22,"color":"#262626","baseline":"middle","align":"center"},"encoding":{"text":{"field":"t"}}},
{"data":{"name":"qgreen"},"mark":{"type":"point","shape":"circle","filled":true,"fill":"#2e6b2e","opacity":1,"size":660}},
{"data":{"name":"qgreen"},"mark":{"type":"text","font":"DejaVu Sans","fontWeight":"bold","fontSize":22,"color":"#12351a","baseline":"middle","align":"center"},"encoding":{"text":{"field":"t"}}},
{"data":{"name":"qyellow"},"mark":{"type":"point","shape":"circle","filled":true,"fill":"#ffff00","opacity":1,"size":720}},
{"data":{"name":"qyellow"},"mark":{"type":"text","font":"DejaVu Sans","fontWeight":"bold","fontSize":23,"color":"#111111","baseline":"middle","align":"center"},"encoding":{"text":{"field":"t"}}},
{"data":{"name":"note"},"mark":{"type":"text","fontSize":11.1,"color":"#f0f0f0","align":"left","baseline":"middle"},"encoding":{"text":{"field":"t"}}},
{"data":{"name":"noteM"},"mark":{"type":"text","fontSize":11.5,"color":"#f0f0f0","align":"left","baseline":"middle"},"encoding":{"text":{"field":"t"}}},
{"data":{"name":"noteGrey"},"mark":{"type":"text","fontSize":11.5,"color":"#b8b8b8","align":"left","baseline":"middle"},"encoding":{"text":{"field":"t"}}},
{"data":{"name":"tpText"},"mark":{"type":"text","fontSize":12.5,"color":"#e6e6e6","align":"left","baseline":"middle"},"encoding":{"text":{"field":"t"}}},
{"data":{"name":"bi"},"mark":{"type":"text","font":"Open Sans","fontSize":10.2,"fontStyle":"italic","fontWeight":"bold","color":"#ffffff","align":"left","baseline":"middle"},"encoding":{"text":{"field":"t"}}},
{"data":{"name":"biSmall"},"mark":{"type":"text","fontSize":10,"fontStyle":"italic","fontWeight":"bold","color":"#ffffff","align":"left","baseline":"middle"},"encoding":{"text":{"field":"t"}}},
{"data":{"name":"biBig"},"mark":{"type":"text","font":"Open Sans","fontSize":12.6,"fontStyle":"italic","fontWeight":"bold","color":"#ffffff","align":"left","baseline":"middle"},"encoding":{"text":{"field":"t"}}},
{"data":{"name":"biLarge"},"mark":{"type":"text","fontSize":16,"fontStyle":"italic","fontWeight":"bold","color":"#ffffff","align":"left","baseline":"middle"},"encoding":{"text":{"field":"t"}}},
{"data":{"name":"violetText"},"mark":{"type":"text","fontSize":14.5,"fontStyle":"italic","fontWeight":"bold","color":"#9900ff","align":"left","baseline":"middle"},"encoding":{"text":{"field":"t"}}},
{"data":{"name":"angle"},"mark":{"type":"text","fontSize":13,"color":"#2196f3","align":"left","baseline":"middle"},"encoding":{"text":{"field":"t"}}},
{"data":{"name":"calloutText"},"mark":{"type":"text","fontSize":13.5,"color":"#f2f2f2","align":"left","baseline":"middle"},"encoding":{"text":{"field":"t"}}},
{"data":{"name":"headB"},"mark":{"type":"text","fontSize":12.5,"fontWeight":"bold","color":"#e6e6e6","align":"left","baseline":"middle"},"encoding":{"text":{"field":"t"}}},
{"data":{"name":"headN"},"mark":{"type":"text","fontSize":12.5,"color":"#d1d4dc","align":"left","baseline":"middle"},"encoding":{"text":{"field":"t"}}},
{"data":{"name":"headR"},"mark":{"type":"text","fontSize":12.5,"color":"#ef5350","align":"left","baseline":"middle"},"encoding":{"text":{"field":"t"}}},
{"data":{"name":"title"},"mark":{"type":"text","fontSize":12,"color":"#b2b5be","align":"left","baseline":"middle"},"encoding":{"text":{"field":"t"}}},
{"data":{"name":"brand"},"mark":{"type":"text","fontSize":13,"color":"#d1d4dc","align":"left","baseline":"middle"},"encoding":{"text":{"field":"t"}}},
{"data":{"name":"logo"},"mark":{"type":"point","filled":true,"fill":"#2962ff","opacity":1,"size":260,"shape":"M-1,0.6 C-1.2,0.1 -0.8,-0.2 -0.4,-0.1 C-0.3,-0.6 0.4,-0.7 0.6,-0.2 C1.1,-0.2 1.2,0.5 0.8,0.6 Z"}},
{"data":{"name":"tags"},"mark":{"type":"rect","fill":"#ffffff"},"encoding":{"x2":{"field":"b2"},"y2":{"field":"p2"}}},
{"data":{"name":"tagText"},"mark":{"type":"text","fontSize":11.5,"color":"#333333","align":"left","baseline":"middle"},"encoding":{"text":{"field":"t"}}},
{"data":{"name":"usd"},"mark":{"type":"rect","fill":"#131722","stroke":"#363a45","cornerRadius":3},"encoding":{"x2":{"field":"b2"},"y2":{"field":"p2"}}},
{"data":{"name":"usdText"},"mark":{"type":"text","fontSize":10.5,"color":"#b2b5be","align":"center","baseline":"middle"},"encoding":{"text":{"field":"t"}}}
],
"resolve":{"scale":{"fill":"independent","stroke":"independent","color":"independent","strokeWidth":"independent"}}
}
